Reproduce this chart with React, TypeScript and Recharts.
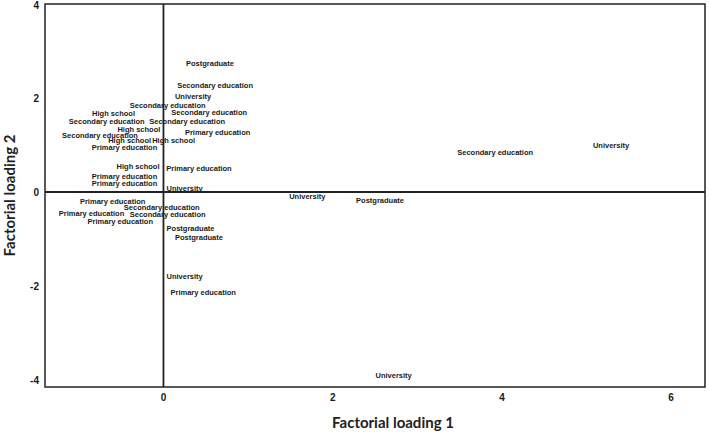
import React from 'react';
import {
  ScatterChart,
  Scatter,
  XAxis,
  YAxis,
  ReferenceLine,
  ReferenceArea,
  Label,
} from 'recharts';

// Education level of each respondent group, with its two factorial loadings.
const levels = [
  'Postgraduate',
  'Secondary education',
  'University',
  'Secondary education',
  'High school',
  'Secondary education',
  'Secondary education',
  'Secondary education',
  'High school',
  'Primary education',
  'Secondary education',
  'High school',
  'High school',
  'Primary education',
  'High school',
  'Primary education',
  'Primary education',
  'Primary education',
  'University',
  'Primary education',
  'Secondary education',
  'Primary education',
  'Secondary education',
  'Primary education',
  'Postgraduate',
  'Postgraduate',
  'University',
  'Primary education',
  'Secondary education',
  'University',
  'University',
  'Postgraduate',
  'University',
];

const loading1 = [
  0.55, 0.61, 0.35, 0.05, -0.59, 0.54, -0.67, 0.28, -0.29, 0.64, -0.75,
  -0.4, 0.12, -0.46, -0.3, 0.42, -0.46, -0.46, 0.25, -0.6, -0.02, -0.85,
  0.05, -0.51, 0.32, 0.42, 0.25, 0.47, 3.92, 5.29, 1.7, 2.56, 2.72,
];

const loading2 = [
  2.74, 2.26, 2.04, 1.85, 1.66, 1.69, 1.51, 1.5, 1.33, 1.26, 1.21, 1.09,
  1.09, 0.94, 0.55, 0.5, 0.32, 0.17, 0.07, -0.21, -0.34, -0.45, -0.47,
  -0.62, -0.78, -0.97, -1.8, -2.14, 0.84, 0.98, -0.09, -0.19, -3.9,
];

const xTicks = [0, 2, 4, 6];
const yTicks = [-4, -2, 0, 2, 4];

const xDomain: [number, number] = [-1.4, 6.4];
const yDomain: [number, number] = [-4.15, 4];

const points = levels.map((name, i) => ({
  name,
  x: loading1[i],
  y: loading2[i],
}));

const FONT = '"Liberation Sans", Arial, sans-serif';
const TITLE_FONT = 'Lato, "Liberation Sans", sans-serif';
const INK = '#1a1a1a';

// Each point is shown only by its text label, centred on the point.
const TextMark = (props: any) => {
  const { cx, cy } = props;
  const name = props.payload?.name ?? props.name;
  return (
    <text
      x={cx}
      y={cy}
      textAnchor="middle"
      dominantBaseline="central"
      fontSize={7.5}
      fontWeight={700}
      fontFamily={FONT}
      fill={INK}
    >
      {name}
    </text>
  );
};

const tickStyle = {
  fontSize: 10,
  fontWeight: 700,
  fontFamily: FONT,
  fill: '#1a1a1a',
};

export default function App() {
  return (
    <div style={{ position: 'absolute', left: 0, top: 0 }}>
      <ScatterChart
        width={709}
        height={432}
        margin={{ top: 4, right: 4, bottom: 0, left: 0 }}
      >
        <XAxis
          type="number"
          dataKey="x"
          domain={xDomain}
          ticks={xTicks}
          height={45}
          axisLine={false}
          tickLine={false}
          tickSize={0}
          tickMargin={7}
          tick={tickStyle}
        >
          <Label
            value="Factorial loading 1"
            position="insideBottom"
            offset={4}
            dx={18}
            style={{
              fontSize: 15,
              fontWeight: 700,
              fontFamily: TITLE_FONT,
              fill: '#222',
            }}
          />
        </XAxis>
        <YAxis
          type="number"
          dataKey="y"
          domain={yDomain}
          ticks={yTicks}
          width={45}
          axisLine={false}
          tickLine={false}
          tickSize={0}
          tickMargin={6}
          tick={tickStyle}
        >
          <Label
            value="Factorial loading 2"
            angle={-90}
            position="insideLeft"
            offset={10}
            style={{
              textAnchor: 'middle',
              fontSize: 15,
              fontWeight: 700,
              fontFamily: TITLE_FONT,
              fill: '#222',
            }}
          />
        </YAxis>
        <ReferenceArea
          x1={xDomain[0]}
          x2={xDomain[1]}
          y1={yDomain[0]}
          y2={yDomain[1]}
          fill="none"
          stroke="#222"
          strokeWidth={1.5}
        />
        <ReferenceLine x={0} stroke="#222" strokeWidth={1.8} />
        <ReferenceLine y={0} stroke="#222" strokeWidth={1.8} />
        <Scatter
          data={points}
          shape={<TextMark />}
          isAnimationActive={false}
        />
      </ScatterChart>
    </div>
  );
}
